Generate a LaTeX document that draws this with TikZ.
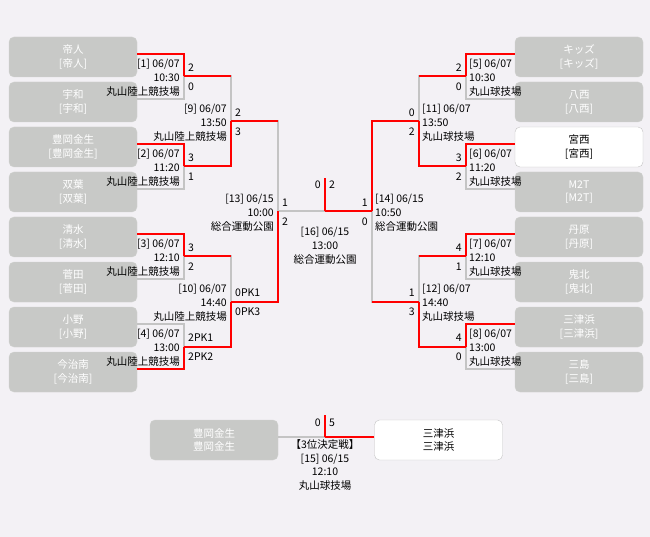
\documentclass[tikz,border=0pt]{standalone}
\usepackage{fontspec}
\setmainfont{Noto Sans CJK JP}
\usepackage{xcolor}

\definecolor{bgcol}{RGB}{243,241,245}
\definecolor{boxgray}{RGB}{200,201,199}
\definecolor{linegray}{RGB}{196,196,196}

\tikzset{
  team/.style={rectangle, rounded corners=5pt, fill=boxgray, draw=boxgray!85!white,
    text=white, minimum width=128pt, minimum height=40pt, align=center, inner sep=0pt},
  champ/.style={team, fill=white, draw=linegray, text=black},
  win/.style={draw=red, line width=2pt},
  lose/.style={draw=linegray, line width=2pt},
  score/.style={inner sep=0pt},
  info/.style={inner sep=0pt}
}

\begin{document}
\begin{tikzpicture}[x=1pt, y=-1pt, font=\fontsize{10.5}{13.8}\selectfont]
  \fill[bgcol] (0,0) rectangle (650,537);
  \useasboundingbox (0,0) rectangle (650,537);

  % teams, left and right
  \foreach \n [count=\i] in {帝人,宇和,豊岡金生,双葉,清水,菅田,小野,今治南} {
    \node[team] (L\i) at (73,12+45*\i) {\n\\{[\n]}};
    \coordinate (pL\i) at ([yshift=3pt]L\i.east);
  }
  \foreach \n/\s [count=\i] in {キッズ/team,八西/team,宮西/champ,M2T/team,丹原/team,鬼北/team,三津浜/team,三島/team} {
    \node[\s] (R\i) at (579,12+45*\i) {\n\\{[\n]}};
    \coordinate (pR\i) at ([yshift=3pt]R\i.west);
  }
  % third place teams
  \node[team] (T1) at (214,440) {豊岡金生\\豊岡金生};
  \node[champ] (T2) at (438.5,440) {三津浜\\三津浜};
  \coordinate (pT1) at ([yshift=3pt]T1.east);
  \coordinate (pT2) at ([yshift=3pt]T2.west);

  % match points
  \coordinate (m1) at (184,76.5);
  \coordinate (m2) at (184,166.5);
  \coordinate (m3) at (184,256.5);
  \coordinate (m4) at (184,346.5);
  \coordinate (m5) at (466,76.5);
  \coordinate (m6) at (466,166.5);
  \coordinate (m7) at (466,256.5);
  \coordinate (m8) at (466,346.5);
  \coordinate (m9) at (231,121.5);
  \coordinate (m10) at (231,301.5);
  \coordinate (m11) at (419,121.5);
  \coordinate (m12) at (419,301.5);
  \coordinate (m13) at (278,211.5);
  \coordinate (m14) at (372,211.5);
  \coordinate (m16) at (325,211.5);
  \coordinate (f16) at (325,178);
  \coordinate (m15) at (325,437);
  \coordinate (f15) at (325,415);

  % bracket lines
  \foreach \a/\b in {pL2/m1,pL4/m2,pL6/m3,pL7/m4,pR2/m5,pR4/m6,pR6/m7,pR8/m8,
      m1/m9,m3/m10,m5/m11,m7/m12,m9/m13,m12/m14,m13/m16,pT1/m15}
    \draw[lose] (\a) -| (\b);
  \foreach \a/\b in {pL1/m1,pL3/m2,pL5/m3,pL8/m4,pR1/m5,pR3/m6,pR5/m7,pR7/m8,
      m2/m9,m4/m10,m6/m11,m8/m12,m10/m13,m11/m14,m14/m16,pT2/m15,m16/f16,m15/f15}
    \draw[win] (\a) -| (\b);
  \foreach \a/\b in {m1/m9,m3/m10,m5/m11,m7/m12,m9/m13,m12/m14}
    \draw[win] (\a) -- (\a -| \b);

  % scores
  \foreach \m/\a/\b in {m1/2/0,m2/3/1,m3/3/2,m4/2PK1/2PK2,m9/2/3,m10/0PK1/0PK3,m13/1/2} {
    \node[score, anchor=west] (\m-a) at ([xshift=4pt,yshift=9pt]\m) {\a};
    \node[score, anchor=west] (\m-b) at ([xshift=4pt,yshift=-10pt]\m) {\b};
  }
  \foreach \m/\a/\b in {m5/2/0,m6/3/2,m7/4/1,m8/4/0,m11/0/2,m12/1/3,m14/1/0} {
    \node[score, anchor=east] (\m-a) at ([xshift=-4pt,yshift=9pt]\m) {\a};
    \node[score, anchor=east] (\m-b) at ([xshift=-4pt,yshift=-10pt]\m) {\b};
  }
  \node[score, anchor=east] (m16-a) at ([xshift=-4pt,yshift=26.5pt]m16) {0};
  \node[score, anchor=west] (m16-b) at ([xshift=4pt,yshift=26.5pt]m16) {2};
  \node[score, anchor=east] (m15-a) at ([xshift=-4pt,yshift=14pt]m15) {0};
  \node[score, anchor=west] (m15-b) at ([xshift=4pt,yshift=14pt]m15) {5};

  % match info, left side
  \node[info, anchor=east, align=right] (i1) at ([xshift=-4pt,yshift=-1pt]m1) {[1] 06/07\\10:30\\丸山陸上競技場};
  \node[info, anchor=east, align=right] (i2) at ([xshift=-4pt,yshift=-1pt]m2) {[2] 06/07\\11:20\\丸山陸上競技場};
  \node[info, anchor=east, align=right] (i3) at ([xshift=-4pt,yshift=-1pt]m3) {[3] 06/07\\12:10\\丸山陸上競技場};
  \node[info, anchor=east, align=right] (i4) at ([xshift=-4pt,yshift=-1pt]m4) {[4] 06/07\\13:00\\丸山陸上競技場};
  \node[info, anchor=east, align=right] (i9) at ([xshift=-4pt,yshift=-1pt]m9) {[9] 06/07\\13:50\\丸山陸上競技場};
  \node[info, anchor=east, align=right] (i10) at ([xshift=-4pt,yshift=-1pt]m10) {[10] 06/07\\14:40\\丸山陸上競技場};
  \node[info, anchor=east, align=right] (i13) at ([xshift=-4pt,yshift=-1pt]m13) {[13] 06/15\\10:00\\総合運動公園};
  % match info, right side
  \node[info, anchor=west, align=left] (i5) at ([xshift=3pt,yshift=-1pt]m5) {[5] 06/07\\10:30\\丸山球技場};
  \node[info, anchor=west, align=left] (i6) at ([xshift=3pt,yshift=-1pt]m6) {[6] 06/07\\11:20\\丸山球技場};
  \node[info, anchor=west, align=left] (i7) at ([xshift=3pt,yshift=-1pt]m7) {[7] 06/07\\12:10\\丸山球技場};
  \node[info, anchor=west, align=left] (i8) at ([xshift=3pt,yshift=-1pt]m8) {[8] 06/07\\13:00\\丸山球技場};
  \node[info, anchor=west, align=left] (i11) at ([xshift=3pt,yshift=-1pt]m11) {[11] 06/07\\13:50\\丸山球技場};
  \node[info, anchor=west, align=left] (i12) at ([xshift=3pt,yshift=-1pt]m12) {[12] 06/07\\14:40\\丸山球技場};
  \node[info, anchor=west, align=left] (i14) at ([xshift=3pt,yshift=-1pt]m14) {[14] 06/15\\10:50\\総合運動公園};
  % final and third place
  \node[info, align=center] (i16) at ([yshift=-34.5pt]m16) {[16] 06/15\\13:00\\総合運動公園};
  \node[info, align=center] (i15) at ([yshift=-28pt]m15) {【3位決定戦】\\{[15] 06/15}\\12:10\\丸山球技場};
\end{tikzpicture}
\end{document}
